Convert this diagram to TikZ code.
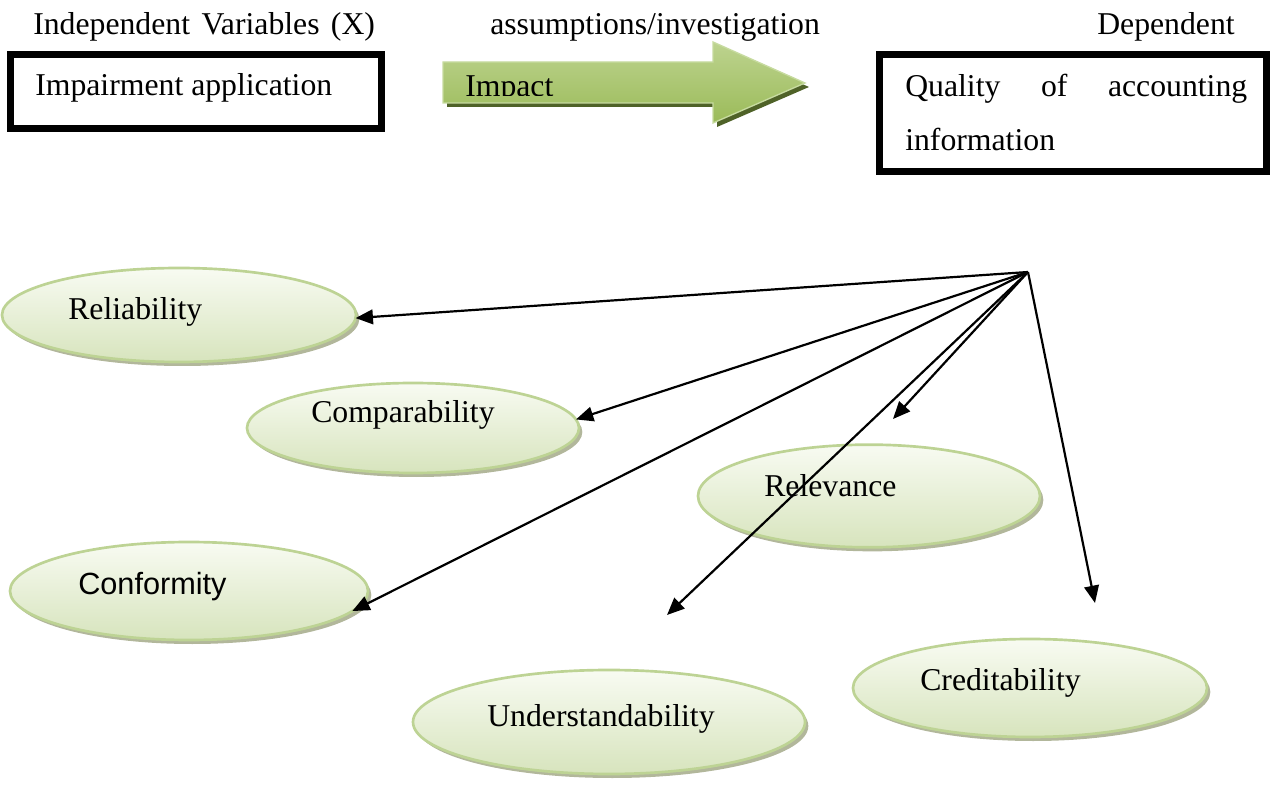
\documentclass[tikz,border=0pt]{standalone}
\usepackage{fontspec}
\setmainfont{Liberation Serif}
\newfontfamily\arialf{Liberation Sans}
\usetikzlibrary{arrows.meta,shapes.geometric,shadows}
\definecolor{ellborder}{HTML}{BDD394}
\definecolor{elltop}{HTML}{F8FBF2}
\definecolor{ellbot}{HTML}{D7E4BD}
\definecolor{ellshadow}{HTML}{A4AA8A}
\definecolor{arrtop}{HTML}{BDD38F}
\definecolor{arrbot}{HTML}{9BBB59}
\definecolor{arrshadow}{HTML}{4F6228}
\definecolor{arrborder}{HTML}{C7DBA0}
\begin{document}
\begin{tikzpicture}[x=0.75pt,y=-0.75pt,
  lbl/.style={font=\fontsize{23.8pt}{28pt}\selectfont, inner sep=0pt, anchor=base west},
  box/.style={draw=black, line width=5.25pt, inner sep=0pt, outer sep=0pt},
  oval/.style={ellipse, draw=ellborder, line width=2pt, top color=elltop, bottom color=ellbot,
    inner sep=0pt, outer sep=0pt,
    drop shadow={shadow xshift=2.5pt, shadow yshift=-3pt, fill=ellshadow, opacity=0.85}},
  conn/.style={line width=1.65pt, -{Triangle[length=13pt,width=11pt]}}]
\useasboundingbox (0,0) rectangle (1271,791);

% top labels
\node[lbl] (tIV) at (33,35) {Independent\hspace{2.6pt} Variables\hspace{2.6pt} (X)};
\node[lbl] (tAI) at (490,35) {assumptions/investigation};
\node[lbl] (tDep) at (1097,35) {Dependent};

% boxes
\node[box, minimum width=278.25pt, minimum height=55.5pt] (b1) at (196,91.5) {};
\node[lbl] (tb1) at (35,96) {Impairment application};
\node[box, minimum width=290.25pt, minimum height=87.75pt] (b2) at (1073,113) {};
\node[lbl] (tb2a) at (905,97) {\makebox[256.5pt][l]{Quality\hfill of\hfill accounting}};
\node[lbl] (tb2b) at (905,151) {information};

% block arrow
\fill[arrshadow] (447,66) -- (717,66) -- (717,46) -- (809,87) -- (717,127) -- (717,107) -- (447,107) -- cycle;
\shade[top color=arrtop, bottom color=arrbot, draw=arrborder, line width=1pt]
  (443,62) -- (713,62) -- (713,42) -- (805,83) -- (713,123) -- (713,103) -- (443,103) -- cycle;
\begin{scope}
  \clip (440,40) rectangle (720,96);
  \node[lbl] (timp) at (465,97) {Impact};
\end{scope}

% ellipses
\node[oval, minimum width=265.5pt, minimum height=70.5pt] (rel) at (179,315) {};
\node[lbl] (trel) at (68,320) {Reliability};
\node[oval, minimum width=249pt, minimum height=67.5pt] (comp) at (413,428) {};
\node[lbl] (tcomp) at (311,423) {Comparability};
\node[oval, minimum width=256.5pt, minimum height=77pt] (relv) at (869,496) {};
\node[lbl] (trelv) at (764,496) {Relevance};
\node[oval, minimum width=268.5pt, minimum height=73.5pt] (conf) at (189,591) {};
\node[lbl, font=\arialf\fontsize{23pt}{28pt}\selectfont] (tconf) at (78,594) {Conformity};
\node[oval, minimum width=294pt, minimum height=78pt] (und) at (609,722) {};
\node[lbl] (tund) at (487,726) {Understandability};
\node[oval, minimum width=265.5pt, minimum height=73.5pt] (cred) at (1030,688) {};
\node[lbl] (tcred) at (920,690) {Creditability};

% connectors
\coordinate (hub) at (1028,272);
\coordinate (fRel) at (893,419);
\coordinate (fUnd) at (667,615);
\coordinate (fCred) at (1095,603);
\draw[conn] (hub) -- (rel.-1);
\draw[conn] (hub) -- (comp.3.5);
\draw[conn] (hub) -- (conf.-7);
\draw[conn] (hub) -- (fRel);
\draw[conn] (hub) -- (fUnd);
\draw[conn] (hub) -- (fCred);
\end{tikzpicture}
\end{document}
